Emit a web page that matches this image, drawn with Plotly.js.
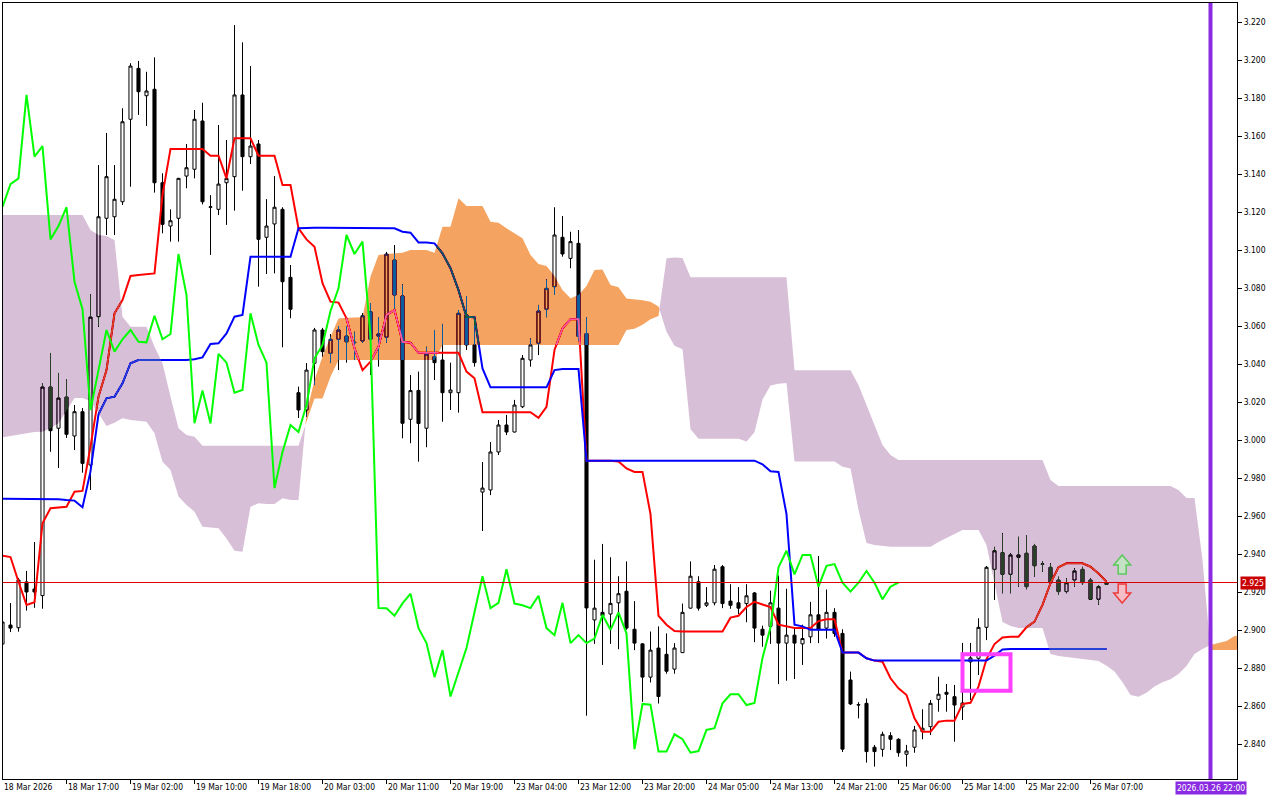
<!DOCTYPE html>
<html><head><meta charset="utf-8">
<script src="https://cdn.plot.ly/plotly-3.0.1.min.js"></script>
<style>html,body{margin:0;padding:0;background:#fff;}#chart{width:1280px;height:800px;}</style>
</head><body><div id="chart"></div>
<script>
// ---- candle data (hourly bars, index 0..138) ----
const open=[2.8926,2.9026,2.9012,2.9253,2.9216,2.9181,3.0279,3.0062,3.0226,3.0021,
3.0149,2.9868,3.0649,3.1167,3.1175,3.1254,3.1688,3.1956,3.1812,3.1846,
3.1354,3.1126,3.1167,3.1389,3.1425,3.1679,3.1225,3.1214,3.1354,3.1386,
3.1816,3.1491,3.1558,3.1067,3.1137,3.1214,3.0856,3.0249,3.0158,3.0404,
3.0579,3.0456,3.0530,3.0547,3.0512,3.0521,3.0675,3.0547,3.0541,3.0947,
3.0758,3.0109,3.0261,3.0062,3.0439,3.0421,3.0249,3.0249,3.0658,3.0500,
2.9726,2.9737,2.9937,3.0079,3.0042,3.0175,3.0421,3.0509,3.0688,3.0807,
3.1067,3.0956,3.1035,3.0560,2.9053,2.9093,2.9084,2.9143,2.9204,2.9004,
2.8927,2.8752,2.8905,2.8872,2.8794,2.8881,2.9115,2.9254,2.9130,2.9143,
2.9333,2.9152,2.9143,2.9139,2.9195,2.9004,2.9019,2.9115,2.8931,2.8973,
2.8927,2.8964,2.9080,2.9010,2.9093,2.8982,2.8737,2.8605,2.8614,2.8383,
2.8372,2.8444,2.8425,2.8346,2.8383,2.8465,2.8491,2.8635,2.8672,2.8649,
2.8595,2.8832,2.8851,2.9014,2.9319,2.9407,2.9293,2.9383,2.9404,2.9442,
2.9346,2.9330,2.9263,2.9202,2.9263,2.9319,2.9263,2.9162,2.9240];
const high=[2.9050,2.9142,2.9274,2.9311,2.9463,3.0300,3.0458,3.0353,3.0321,3.0184,
3.0168,3.0768,3.1447,3.1616,3.1447,3.1746,3.1983,3.1995,3.1938,3.2014,
3.1404,3.1214,3.1380,3.1558,3.1737,3.1775,3.1289,3.1658,3.1579,3.2184,
3.2093,3.1968,3.1579,3.1268,3.1389,3.1225,3.0921,3.0281,3.0405,3.0590,
3.0590,3.0558,3.0600,3.0600,3.0570,3.0668,3.0721,3.0647,3.0990,3.1026,
3.0819,3.0342,3.0360,3.0491,3.0579,3.0611,3.0407,3.0684,3.0758,3.0646,
2.9884,2.9989,3.0105,3.0132,3.0211,3.0447,3.0535,3.0711,3.0846,3.1225,
3.1179,3.1096,3.1105,3.0647,2.9370,2.9453,2.9383,2.9283,2.9361,2.9152,
2.8930,2.8992,2.9019,2.8982,2.8931,2.9139,2.9361,2.9283,2.9226,2.9342,
2.9342,2.9241,2.9226,2.9241,2.9200,2.9023,2.9207,2.9287,2.9217,2.9010,
2.9028,2.9148,2.9389,2.9213,2.9115,2.9004,2.8781,2.8620,2.8640,2.8395,
2.8465,2.8462,2.8430,2.8395,2.8495,2.8583,2.8632,2.8754,2.8716,2.8711,
2.8932,2.8932,2.9062,2.9337,2.9438,2.9509,2.9404,2.9491,2.9500,2.9453,
2.9363,2.9351,2.9281,2.9272,2.9325,2.9333,2.9272,2.9237,2.9258];
const low=[2.8920,2.8989,2.8991,2.9102,2.9117,2.9112,2.9938,2.9853,3.0011,2.9947,
2.9828,2.9737,3.0596,3.1079,3.1079,3.1237,3.1333,3.1711,3.1653,3.1302,
3.1088,3.1044,3.1044,3.1325,3.1377,3.1240,3.0974,3.1184,3.1132,3.1207,
3.1312,3.1453,3.0807,3.0874,3.0877,3.0488,3.0641,3.0116,3.0123,3.0289,
3.0439,3.0405,3.0368,3.0407,3.0421,3.0511,3.0342,3.0386,3.0511,3.0684,
3.0009,2.9983,2.9886,2.9962,3.0316,3.0096,3.0158,3.0144,3.0474,3.0386,
2.9521,2.9710,2.9921,3.0026,3.0040,3.0168,3.0386,3.0447,3.0646,3.0763,
3.0965,3.0904,3.0520,2.8549,2.8927,2.8816,2.8927,2.8899,2.9001,2.8894,
2.8622,2.8724,2.8613,2.8770,2.8770,2.8880,2.9113,2.9102,2.9121,2.9130,
2.9115,2.9112,2.9084,2.9041,2.8936,2.8912,2.8927,2.8715,2.8733,2.8742,
2.8816,2.8931,2.8931,2.8955,2.8964,2.8358,2.8605,2.8535,2.8302,2.8281,
2.8333,2.8368,2.8333,2.8281,2.8354,2.8425,2.8447,2.8570,2.8570,2.8412,
2.8526,2.8632,2.8763,2.8947,2.9158,2.9193,2.9193,2.9228,2.9214,2.9281,
2.9307,2.9246,2.9184,2.9193,2.9228,2.9237,2.9158,2.9132,2.9237];
const close=[2.9042,2.9010,2.9263,2.9200,2.9200,3.0279,3.0049,3.0221,3.0030,3.0149,
2.9877,3.0647,3.1175,3.1386,3.1267,3.1675,3.1968,3.1833,3.1837,3.1354,
3.1135,3.1154,3.1377,3.1433,3.1688,3.1254,3.1227,3.1347,3.1377,3.1816,
3.1491,3.1547,3.1056,3.1126,3.1225,3.0833,3.0688,3.0158,3.0368,3.0579,
3.0465,3.0530,3.0579,3.0517,3.0514,3.0654,3.0530,3.0558,3.0979,3.0763,
3.0088,3.0260,3.0087,3.0453,3.0407,3.0249,3.0263,3.0667,3.0500,3.0407,
2.9747,2.9937,3.0079,3.0042,3.0184,3.0430,3.0500,3.0679,3.0798,3.1079,
3.0979,3.1044,3.0545,2.9116,2.9115,2.9075,2.9140,2.9191,2.9010,2.8931,
2.8752,2.8894,2.8650,2.8783,2.8905,2.9093,2.9283,2.9115,2.9143,2.9320,
2.9139,2.9130,2.9115,2.9180,2.9010,2.8973,2.9143,2.8931,2.8973,2.8931,
2.8955,2.9080,2.9001,2.9093,2.8982,2.8373,2.8611,2.8607,2.8360,2.8360,
2.8451,2.8425,2.8354,2.8363,2.8474,2.8483,2.8614,2.8662,2.8662,2.8605,
2.8616,2.8853,2.9014,2.9330,2.9417,2.9293,2.9395,2.9395,2.9228,2.9338,
2.9347,2.9249,2.9202,2.9249,2.9311,2.9249,2.9162,2.9228,2.9250];

// ---- Ichimoku lines ----
const tenkan=[2.9391,2.9384,2.9254,2.9132,2.9146,2.9562,2.9641,2.9644,2.9649,2.9728,
2.9732,2.9965,3.0228,3.0368,3.0667,3.0737,3.0863,3.0868,3.0872,3.0877,
3.1290,3.1532,3.1532,3.1532,3.1532,3.1532,3.1496,3.1496,3.1377,3.1588,
3.1588,3.1588,3.1496,3.1496,3.1496,3.1342,3.1342,3.1114,3.1056,3.1017,
3.0825,3.0728,3.0723,3.0640,3.0483,3.0368,3.0412,3.0491,3.0658,3.0684,
3.0517,3.0512,3.0459,3.0459,3.0459,3.0459,3.0459,3.0459,3.0360,3.0325,
3.0146,3.0146,3.0146,3.0146,3.0146,3.0146,3.0146,3.0117,3.0175,3.0474,
3.0588,3.0635,3.0635,2.9891,2.9891,2.9891,2.9891,2.9887,2.9850,2.9832,
2.9832,2.9610,2.9075,2.9028,2.8995,2.8992,2.8992,2.8992,2.8992,2.8992,
2.8992,2.9065,2.9075,2.9121,2.9148,2.9134,2.9121,2.9028,2.9019,2.9010,
2.9010,2.9010,2.9047,2.9056,2.9056,2.8881,2.8881,2.8881,2.8851,2.8839,
2.8833,2.8746,2.8693,2.8658,2.8535,2.8465,2.8465,2.8517,2.8523,2.8523,
2.8611,2.8617,2.8702,2.8847,2.8926,2.8961,2.8965,2.8965,2.9014,2.9044,
2.9132,2.9246,2.9330,2.9351,2.9351,2.9351,2.9333,2.9298,2.9254];
const kijun=[2.9691,2.9691,2.9691,2.9691,2.9691,2.9691,2.9691,2.9688,2.9684,2.9681,
2.9646,2.9835,3.0135,3.0219,3.0228,3.0298,3.0404,3.0421,3.0421,3.0421,
3.0421,3.0421,3.0421,3.0421,3.0425,3.0435,3.0505,3.0509,3.0561,3.0649,
3.0658,3.0965,3.0965,3.0965,3.0965,3.0965,3.0965,3.1114,3.1117,3.1117,
3.1117,3.1117,3.1117,3.1117,3.1117,3.1117,3.1117,3.1117,3.1117,3.1114,
3.1096,3.1091,3.1040,3.1040,3.1035,3.0982,3.0904,3.0789,3.0649,3.0646,
3.0377,3.0277,3.0277,3.0277,3.0277,3.0277,3.0277,3.0277,3.0277,3.0368,
3.0374,3.0374,3.0374,2.9891,2.9891,2.9891,2.9891,2.9891,2.9891,2.9891,
2.9891,2.9891,2.9891,2.9891,2.9891,2.9891,2.9891,2.9891,2.9891,2.9891,
2.9891,2.9891,2.9891,2.9891,2.9891,2.9872,2.9835,2.9832,2.9610,2.9028,
2.9019,2.9001,2.9001,2.9001,2.9001,2.8881,2.8881,2.8881,2.8851,2.8839,
2.8839,2.8839,2.8839,2.8839,2.8839,2.8839,2.8839,2.8839,2.8839,2.8839,
2.8839,2.8839,2.8839,2.8839,2.8865,2.8898,2.8900,2.8900,2.8900,2.8900,
2.8900,2.8900,2.8900,2.8900,2.8900,2.8900,2.8900,2.8900,2.8900];
// Senkou spans (already displaced forward), index 0..155
const spanA=[3.0014,3.0021,3.0030,3.0035,3.0042,3.0044,3.0062,3.0088,3.0154,3.0221,
3.0221,3.0205,3.0141,3.0074,3.0091,3.0114,3.0105,3.0102,3.0096,3.0035,
2.9886,2.9842,2.9702,2.9658,2.9623,2.9544,2.9540,2.9535,2.9482,2.9417,
2.9412,2.9649,2.9667,2.9663,2.9663,2.9693,2.9684,2.9684,3.0141,3.0316,
3.0439,3.0544,3.0640,3.0644,3.0646,3.0646,3.0860,3.0974,3.0979,3.0983,
3.0986,3.1000,3.1000,3.1000,3.0986,3.1123,3.1123,3.1272,3.1232,3.1232,
3.1232,3.1149,3.1144,3.1114,3.1088,3.1062,3.0974,3.0926,3.0916,3.0863,
3.0789,3.0746,3.0763,3.0811,3.0895,3.0898,3.0816,3.0804,3.0745,3.0740,
3.0736,3.0727,3.0703,3.0570,3.0496,3.0477,3.0056,3.0006,3.0006,3.0006,
3.0006,3.0006,3.0006,2.9992,3.0041,3.0213,3.0287,3.0296,3.0300,2.9887,
2.9887,2.9887,2.9887,2.9887,2.9887,2.9859,2.9850,2.9632,2.9458,2.9447,
2.9442,2.9438,2.9438,2.9438,2.9438,2.9438,2.9438,2.9463,2.9484,2.9505,
2.9526,2.9526,2.9526,2.9447,2.9237,2.9042,2.9021,2.9011,2.9011,2.9011,
2.9011,2.8874,2.8863,2.8858,2.8853,2.8847,2.8842,2.8837,2.8812,2.8781,
2.8725,2.8658,2.8649,2.8670,2.8702,2.8725,2.8741,2.8768,2.8811,2.8874,
2.8900,2.8921,2.8932,2.8942,2.8968,2.8968];
const spanB=[3.1184,3.1184,3.1184,3.1184,3.1184,3.1184,3.1184,3.1184,3.1184,3.1184,
3.1184,3.1105,3.1079,3.1074,3.1053,3.0649,3.0596,3.0596,3.0596,3.0491,
3.0404,3.0228,3.0062,3.0026,3.0017,2.9970,2.9970,2.9970,2.9970,2.9970,
2.9970,2.9970,2.9970,2.9970,2.9970,2.9970,2.9970,2.9970,3.0096,3.0219,
3.0219,3.0333,3.0421,3.0421,3.0421,3.0421,3.0421,3.0421,3.0421,3.0421,
3.0421,3.0421,3.0421,3.0421,3.0421,3.0500,3.0500,3.0500,3.0500,3.0500,
3.0500,3.0500,3.0500,3.0500,3.0500,3.0500,3.0500,3.0500,3.0500,3.0500,
3.0500,3.0500,3.0500,3.0500,3.0500,3.0500,3.0500,3.0500,3.0579,3.0585,
3.0607,3.0635,3.0653,3.0957,3.0961,3.0958,3.0856,3.0856,3.0856,3.0856,
3.0856,3.0856,3.0856,3.0856,3.0856,3.0856,3.0856,3.0856,3.0856,3.0367,
3.0367,3.0367,3.0367,3.0367,3.0367,3.0367,3.0367,3.0290,3.0184,3.0079,
2.9974,2.9921,2.9895,2.9895,2.9895,2.9895,2.9895,2.9895,2.9895,2.9895,
2.9895,2.9895,2.9895,2.9895,2.9895,2.9895,2.9895,2.9895,2.9895,2.9895,
2.9895,2.9789,2.9758,2.9758,2.9758,2.9758,2.9758,2.9758,2.9758,2.9758,
2.9758,2.9758,2.9758,2.9758,2.9758,2.9758,2.9758,2.9737,2.9695,2.9695,
2.9368,2.8895,2.8895,2.8895,2.8895,2.8895];
const chikouShift=26;
const bidPrice=2.925;
const tickIdx=[0,8,16,24,32,40,48,56,64,72,80,88,96,104,112,120,128,136];
const tickLabels=["18 Mar 2026","18 Mar 17:00","19 Mar 02:00","19 Mar 10:00","19 Mar 18:00","20 Mar 03:00","20 Mar 11:00","20 Mar 19:00","23 Mar 04:00","23 Mar 12:00","23 Mar 20:00","24 Mar 05:00","24 Mar 13:00","24 Mar 21:00","25 Mar 06:00","25 Mar 14:00","25 Mar 22:00","26 Mar 07:00"];
const vlineIdx=151, vlineLabel="2026.03.26 22:00";

// ---- build traces ----
const FONT='"DejaVu Sans Condensed","Liberation Sans",sans-serif';
const XR=[0.0625,154.3125];
const idx=open.map((_,i)=>i);
const chX=[], chY=[];
for(let i=0;i+chikouShift<close.length;i++){chX.push(i);chY.push(close[i+chikouShift]);}

// cloud polygons with crossing points inserted
const cx=[], ca=[], cb=[];
for(let i=0;i<spanA.length;i++){
  cx.push(i); ca.push(spanA[i]); cb.push(spanB[i]);
  if(i<spanA.length-1){
    const d0=spanA[i]-spanB[i], d1=spanA[i+1]-spanB[i+1];
    if(d0*d1<0){const t=d0/(d0-d1); const v=spanA[i]+t*(spanA[i+1]-spanA[i]); cx.push(i+t); ca.push(v); cb.push(v);}
  }
}
const cmax=ca.map((v,k)=>Math.max(v,cb[k]));
const lineTrace=(x,y,color,w)=>({type:'scatter',mode:'lines',x:x,y:y,line:{color:color,width:w},hoverinfo:'skip',showlegend:false});
const data=[
  {type:'bar',x:[77],y:[1.2],base:[2.2],width:[400],marker:{color:'#ffffff',line:{width:0}},hoverinfo:'skip',showlegend:false},
  {type:'candlestick',x:idx,open:open,high:high,low:low,close:close,whiskerwidth:0,
   increasing:{line:{color:'#000000',width:1},fillcolor:'#ffffff'},
   decreasing:{line:{color:'#000000',width:1},fillcolor:'#000000'},hoverinfo:'skip',showlegend:false},
  lineTrace(idx,tenkan,'#ff0000',2),
  lineTrace(idx,kijun,'#0000ff',2),
  lineTrace(cx,cb,'rgba(0,0,0,0)',0),
  Object.assign(lineTrace(cx,cmax,'rgba(0,0,0,0)',0),{fill:'tonexty',fillcolor:'rgb(11,91,159)'}),
  lineTrace(cx,ca,'rgba(0,0,0,0)',0),
  Object.assign(lineTrace(cx,cmax,'rgba(0,0,0,0)',0),{fill:'tonexty',fillcolor:'rgb(39,64,39)'}),
  lineTrace(chX,chY,'#00ff00',2)
];

// arrow shapes (pixel geometry converted to axis units)
const PX=1/8, PY=1/1900;
function arrow(cxp, tip, dir, stroke, fill){
  const hw=8.5*PX, sw=4*PX, hh=10*PY*dir, sh=19*PY*dir;
  const p=[[cxp,tip],[cxp+hw,tip-hh],[cxp+sw,tip-hh],[cxp+sw,tip-sh],[cxp-sw,tip-sh],[cxp-sw,tip-hh],[cxp-hw,tip-hh]];
  return {type:'path',xref:'x',yref:'y',path:'M'+p.map(q=>q[0]+','+q[1]).join(' L')+' Z',line:{color:stroke,width:1.5},fillcolor:fill,layer:'above'};
}
const shapes=[
  {type:'line',xref:'paper',x0:0,x1:1,yref:'y',y0:bidPrice,y1:bidPrice,line:{color:'rgb(220,0,0)',width:1},layer:'above'},
  {type:'line',xref:'x',x0:vlineIdx,x1:vlineIdx,yref:'paper',y0:0,y1:1,line:{color:'#8a2be2',width:4},layer:'above'},
  {type:'rect',xref:'x',yref:'y',x0:120,x1:126,y0:2.8680,y1:2.8873,line:{color:'#ff40ff',width:4},fillcolor:'rgba(0,0,0,0)',layer:'above'},
  arrow(139.96,2.9395,1,'#5cc85c','rgba(190,240,190,0.7)'),
  arrow(139.96,2.9142,-1,'#ee3b3b','rgba(255,190,190,0.7)')
];
const annotations=tickIdx.map((t,k)=>({xref:'x',x:Math.max(t,XR[0]),yref:'paper',y:0,xanchor:'left',yanchor:'top',yshift:-1,xshift:-1,
  text:tickLabels[k],showarrow:false,font:{family:FONT,size:8.5,color:'#000'}}));
annotations.push({xref:'paper',x:1,xanchor:'left',xshift:3,yref:'y',y:bidPrice,yanchor:'middle',text:bidPrice.toFixed(3),
  showarrow:false,bgcolor:'#c80000',borderpad:1,font:{family:FONT,size:8.5,color:'#fff'}});
annotations.push({xref:'x',x:vlineIdx,xanchor:'center',yref:'paper',y:0,yanchor:'top',yshift:-2,text:vlineLabel,
  showarrow:false,bgcolor:'#8a2be2',borderpad:1,font:{family:FONT,size:8.5,color:'#fff'}});

const layout={width:1280,height:800,margin:{l:3,r:43,t:3,b:21,pad:0},paper_bgcolor:'#ffffff',plot_bgcolor:'#ffffff',
  showlegend:false,hovermode:false,dragmode:false,boxgap:0.45,
  xaxis:{type:'linear',range:XR,rangeslider:{visible:false},showgrid:false,zeroline:false,showline:true,
    linecolor:'#000',linewidth:1,mirror:true,tickmode:'array',tickvals:tickIdx,ticktext:tickIdx.map(()=>''),
    ticks:'outside',ticklen:4,tickcolor:'#000',tickwidth:1,fixedrange:true,automargin:false},
  yaxis:{type:'linear',range:[2.82158,3.2300],side:'right',showgrid:false,zeroline:false,showline:true,linecolor:'#000',
    linewidth:1,mirror:true,ticks:'outside',ticklen:4,tickcolor:'#000',tickwidth:1,dtick:0.02,tick0:2.84,tickformat:'.3f',
    tickfont:{family:FONT,size:8.5,color:'#000'},fixedrange:true,automargin:false},
  shapes:shapes,annotations:annotations};

Plotly.newPlot('chart',data,layout,{staticPlot:true,displayModeBar:false}).then(gd=>{
  gd.querySelectorAll('.scatterlayer path.js-fill').forEach(p=>{p.style.mixBlendMode='difference';});
});
</script></body></html>
